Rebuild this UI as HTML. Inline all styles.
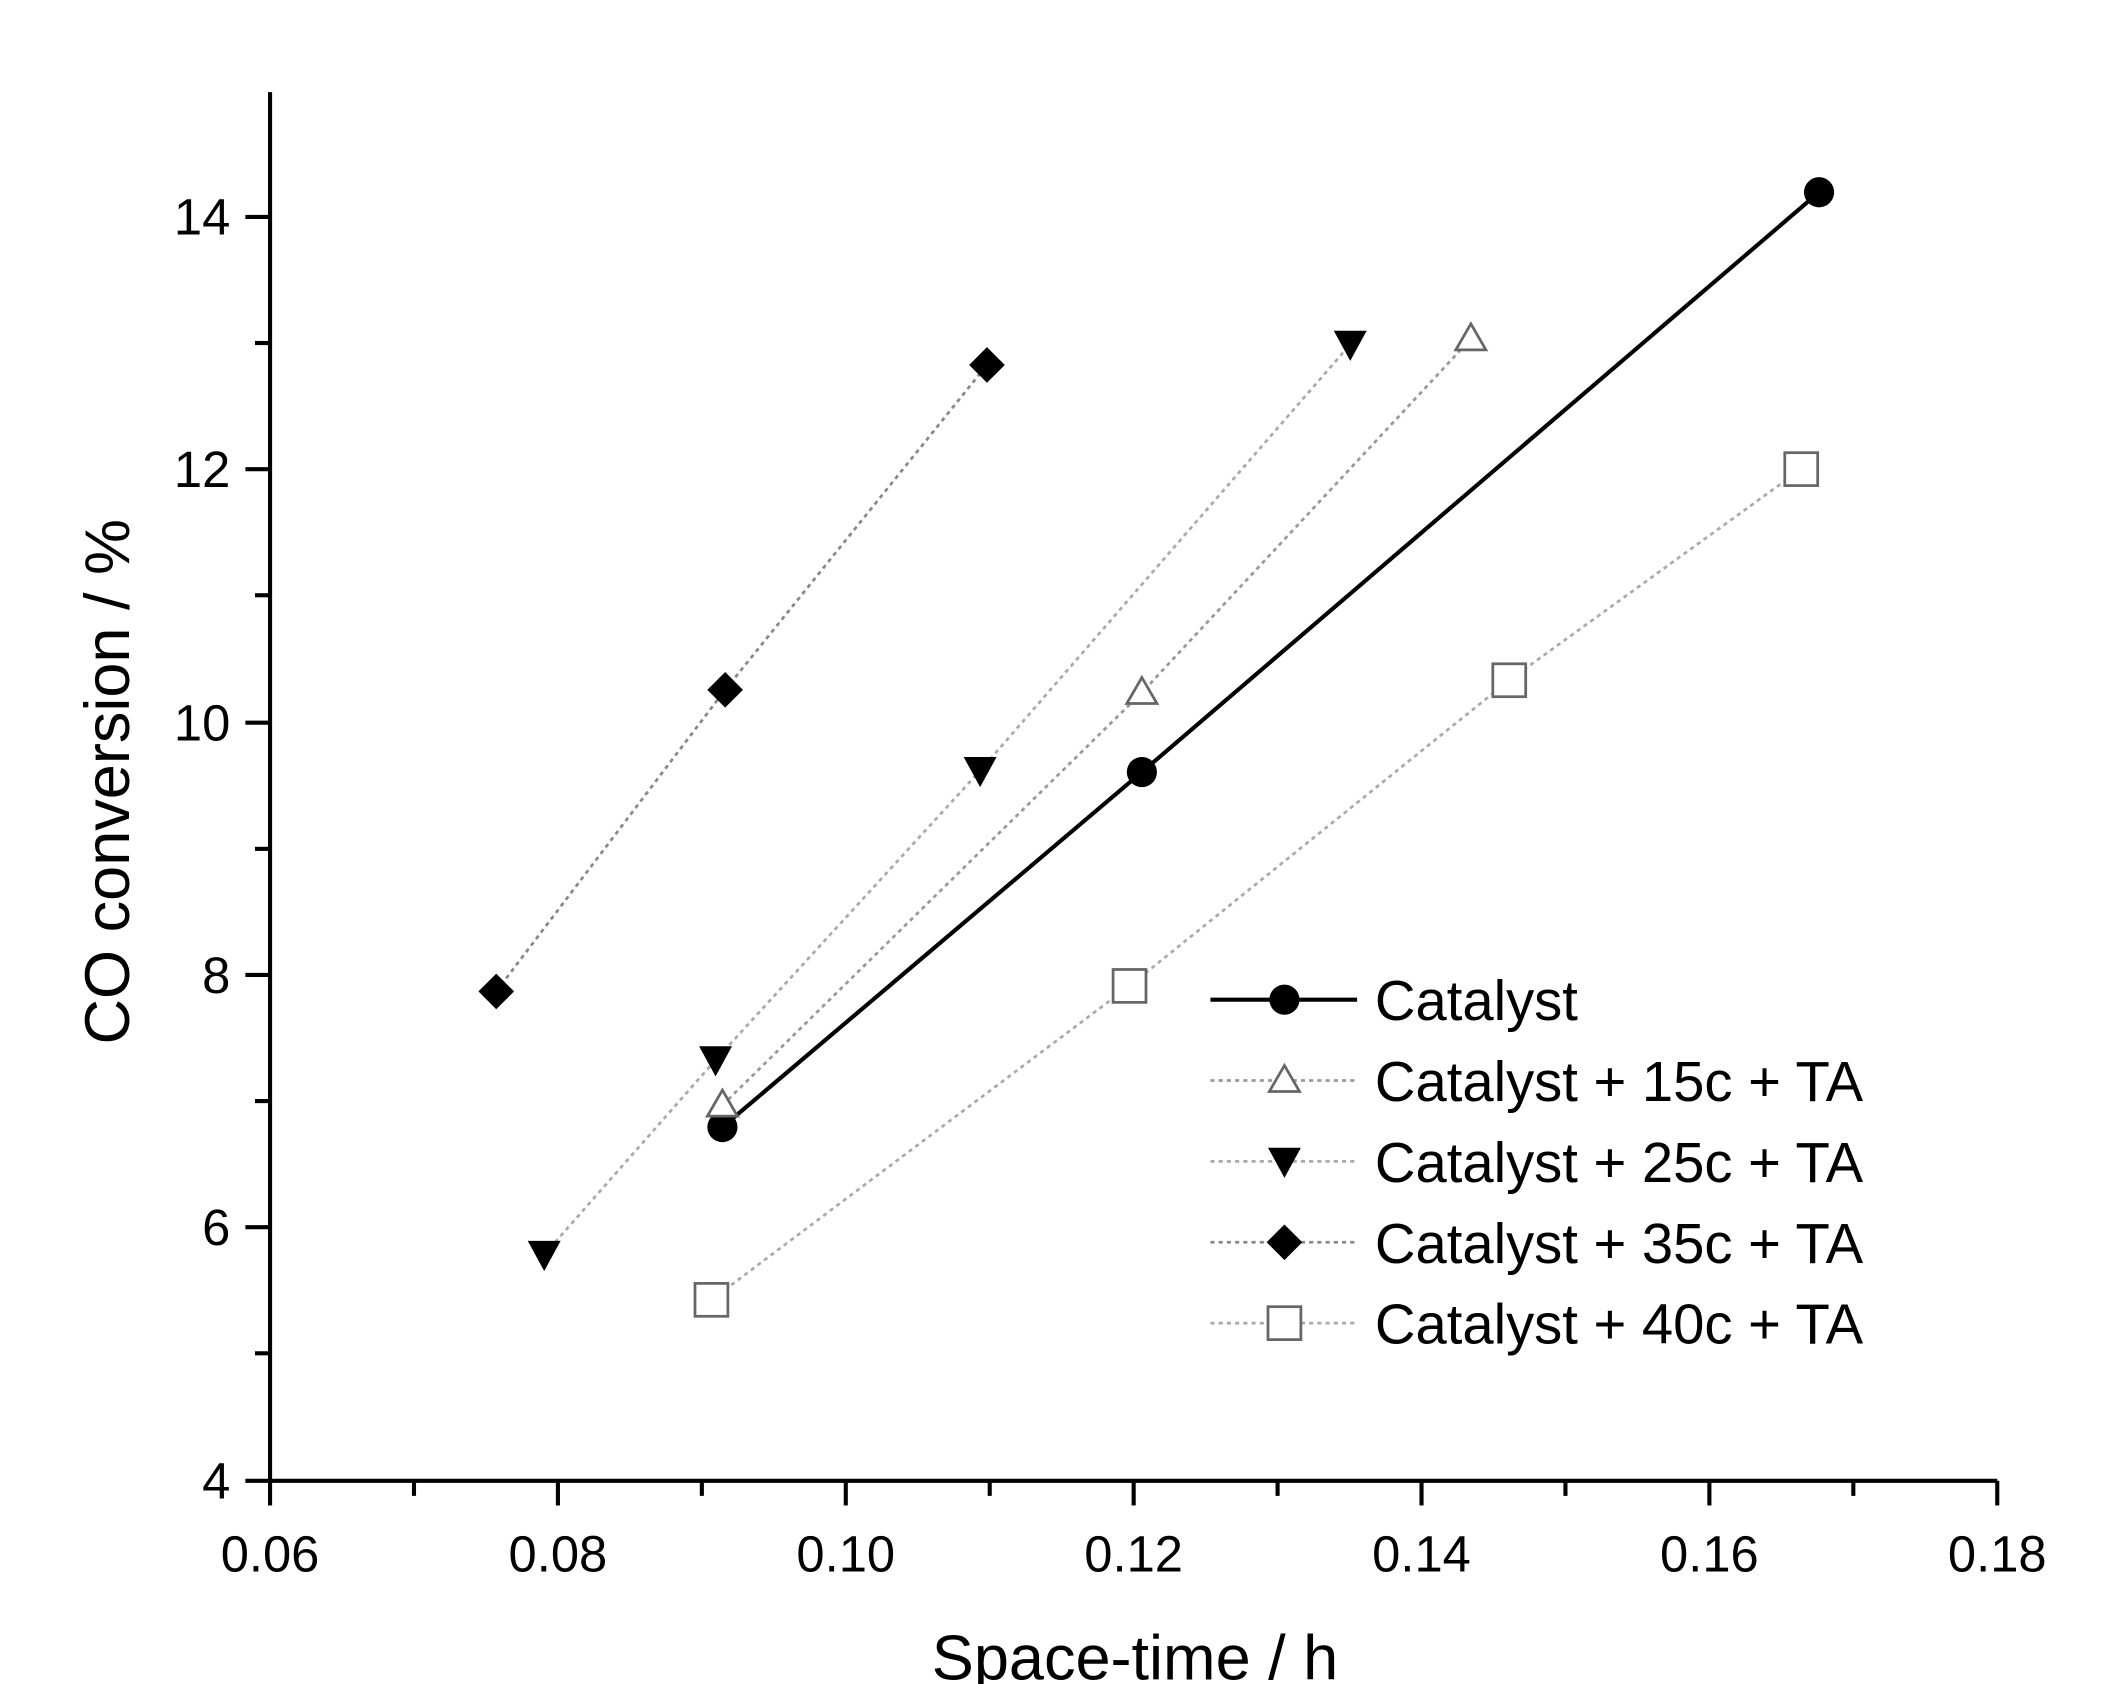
<!DOCTYPE html>
<html><head><style>html,body{margin:0;padding:0;background:#fff}svg{display:block}</style></head><body>
<svg width="2122" height="1684" viewBox="0 0 1548 1228" xmlns="http://www.w3.org/2000/svg" font-family="Liberation Sans, Arial, sans-serif">
<rect width="1548" height="1228" fill="#fff"/>
<g stroke="#000" stroke-width="3" fill="none">
<line x1="197" y1="67" x2="197" y2="1080"/>
<line x1="197" y1="1080" x2="1457" y2="1080"/>
<line x1="179" y1="158" x2="197" y2="158"/><line x1="186" y1="250" x2="197" y2="250"/>
<line x1="179" y1="342" x2="197" y2="342"/><line x1="186" y1="434" x2="197" y2="434"/>
<line x1="179" y1="527" x2="197" y2="527"/><line x1="186" y1="619" x2="197" y2="619"/>
<line x1="179" y1="711" x2="197" y2="711"/><line x1="186" y1="803" x2="197" y2="803"/>
<line x1="179" y1="895" x2="197" y2="895"/><line x1="186" y1="987" x2="197" y2="987"/>
<line x1="179" y1="1080" x2="197" y2="1080"/>
<line x1="197" y1="1080" x2="197" y2="1098"/><line x1="302" y1="1080" x2="302" y2="1091"/>
<line x1="407" y1="1080" x2="407" y2="1098"/><line x1="512" y1="1080" x2="512" y2="1091"/>
<line x1="617" y1="1080" x2="617" y2="1098"/><line x1="722" y1="1080" x2="722" y2="1091"/>
<line x1="827" y1="1080" x2="827" y2="1098"/><line x1="932" y1="1080" x2="932" y2="1091"/>
<line x1="1037" y1="1080" x2="1037" y2="1098"/><line x1="1142" y1="1080" x2="1142" y2="1091"/>
<line x1="1247" y1="1080" x2="1247" y2="1098"/><line x1="1352" y1="1080" x2="1352" y2="1091"/>
<line x1="1457" y1="1080" x2="1457" y2="1098"/>
</g>
<g font-size="37" text-anchor="end" fill="#000">
<text x="168" y="171">14</text><text x="168" y="355">12</text><text x="168" y="540">10</text>
<text x="168" y="724">8</text><text x="168" y="908">6</text><text x="168" y="1093">4</text>
</g>
<g font-size="37" text-anchor="middle" fill="#000">
<text x="197" y="1146">0.06</text><text x="407" y="1146">0.08</text><text x="617" y="1146">0.10</text>
<text x="827" y="1146">0.12</text><text x="1037" y="1146">0.14</text><text x="1247" y="1146">0.16</text><text x="1457" y="1146">0.18</text>
</g>
<text x="828" y="1225" font-size="46" text-anchor="middle">Space-time / h</text>
<text transform="translate(94,570) rotate(-90)" font-size="46" text-anchor="middle">CO conversion / %</text>
<g fill="none" stroke-width="2" stroke-dasharray="3,3">
<polyline points="527,806 833,505 1073,247" stroke="#999"/>
<polyline points="397,915 522,773 715,562 985,251" stroke="#aaa"/>
<polyline points="362,723 529,503 720,266" stroke="#888"/>
<polyline points="519,948 824,719 1101,496 1314,342" stroke="#aaa"/>
</g>
<polyline points="527,822 833,563 1327,140" fill="none" stroke="#000" stroke-width="3"/>
<g fill="#000">
<circle cx="527" cy="822" r="11"/><circle cx="833" cy="563" r="11"/><circle cx="1327" cy="140" r="11"/>
<path d="M385,905h24l-12,22z"/><path d="M510,763h24l-12,22z"/><path d="M703,552h24l-12,22z"/><path d="M973,241h24l-12,22z"/>
<path d="M362,710l13,13l-13,13l-13,-13z"/><path d="M529,490l13,13l-13,13l-13,-13z"/><path d="M720,253l13,13l-13,13l-13,-13z"/>
</g>
<g fill="#fff" stroke="#666" stroke-width="2">
<path d="M527,795l11,19h-22z"/><path d="M833,494l11,19h-22z"/><path d="M1073,236l11,19h-22z"/>
<rect x="507" y="936" width="24" height="24"/><rect x="812" y="707" width="24" height="24"/><rect x="1089" y="484" width="24" height="24"/><rect x="1302" y="330" width="24" height="24"/>
</g>
<line x1="883" y1="729" x2="990" y2="729" stroke="#000" stroke-width="3"/>
<circle cx="937" cy="729" r="11" fill="#000"/>
<g stroke-width="2" stroke-dasharray="3,3">
<line x1="883" y1="788" x2="990" y2="788" stroke="#999"/>
<line x1="883" y1="847" x2="990" y2="847" stroke="#aaa"/>
<line x1="883" y1="906" x2="990" y2="906" stroke="#888"/>
<line x1="883" y1="965" x2="990" y2="965" stroke="#aaa"/>
</g>
<path d="M937,777l11,19h-22z" fill="#fff" stroke="#666" stroke-width="2"/>
<path d="M925,837h24l-12,22z" fill="#000"/>
<path d="M937,893l13,13l-13,13l-13,-13z" fill="#000"/>
<rect x="925" y="953" width="24" height="24" fill="#fff" stroke="#666" stroke-width="2"/>
<g font-size="41" fill="#000">
<text x="1003" y="744">Catalyst</text>
<text x="1003" y="803">Catalyst + 15c + TA</text>
<text x="1003" y="862">Catalyst + 25c + TA</text>
<text x="1003" y="921">Catalyst + 35c + TA</text>
<text x="1003" y="980">Catalyst + 40c + TA</text>
</g>
</svg>
</body></html>
